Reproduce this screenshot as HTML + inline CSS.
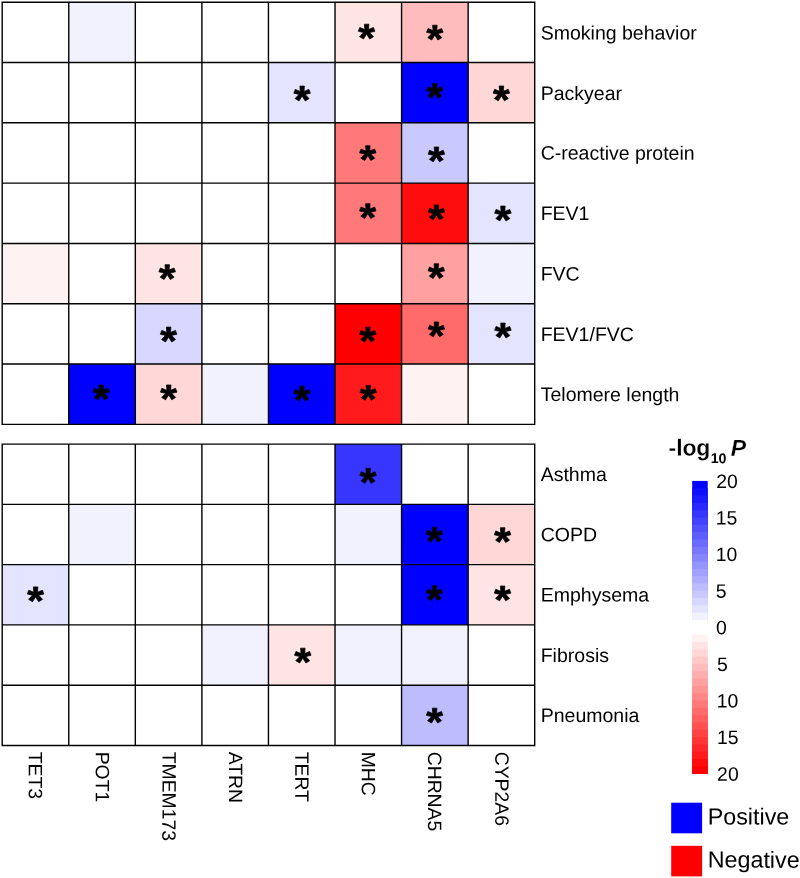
<!DOCTYPE html>
<html><head><meta charset="utf-8"><title>heatmap</title>
<style>
html,body{margin:0;padding:0;background:#fff;}
body{width:800px;height:878px;overflow:hidden;}
svg{display:block;will-change:transform;font-family:"Liberation Sans",sans-serif;}
.lab{font-size:19.5px;fill:#000;}
.col{font-size:19.35px;fill:#000;}
.star{font-size:40px;}
.st{fill:#000;stroke:#000;stroke-width:36;stroke-linejoin:round;}
.tick{font-size:19.4px;fill:#000;}
.leg{font-size:23.3px;fill:#000;}
.ttl{font-size:23px;font-weight:bold;fill:#000;stroke:#fff;stroke-width:0.2px;}
</style></head><body>
<svg width="800" height="878" viewBox="0 0 800 878">
<rect x="0" y="0" width="800" height="878" fill="#fff"/>

<rect x="68.76" y="2.20" width="66.56" height="60.31" fill="rgb(242,242,255)"/>
<rect x="335.01" y="2.20" width="66.56" height="60.31" fill="rgb(255,228,228)"/>
<rect x="401.57" y="2.20" width="66.56" height="60.31" fill="rgb(255,188,188)"/>
<rect x="268.45" y="62.51" width="66.56" height="60.31" fill="rgb(228,228,255)"/>
<rect x="401.57" y="62.51" width="66.56" height="60.31" fill="rgb(0,0,255)"/>
<rect x="468.14" y="62.51" width="66.56" height="60.31" fill="rgb(255,215,215)"/>
<rect x="335.01" y="122.81" width="66.56" height="60.31" fill="rgb(255,121,121)"/>
<rect x="401.57" y="122.81" width="66.56" height="60.31" fill="rgb(201,201,255)"/>
<rect x="335.01" y="183.12" width="66.56" height="60.31" fill="rgb(255,121,121)"/>
<rect x="401.57" y="183.12" width="66.56" height="60.31" fill="rgb(255,13,13)"/>
<rect x="468.14" y="183.12" width="66.56" height="60.31" fill="rgb(228,228,255)"/>
<rect x="2.20" y="243.43" width="66.56" height="60.31" fill="rgb(255,242,242)"/>
<rect x="135.32" y="243.43" width="66.56" height="60.31" fill="rgb(255,228,228)"/>
<rect x="401.57" y="243.43" width="66.56" height="60.31" fill="rgb(255,161,161)"/>
<rect x="468.14" y="243.43" width="66.56" height="60.31" fill="rgb(242,242,255)"/>
<rect x="135.32" y="303.74" width="66.56" height="60.31" fill="rgb(215,215,255)"/>
<rect x="335.01" y="303.74" width="66.56" height="60.31" fill="rgb(255,0,0)"/>
<rect x="401.57" y="303.74" width="66.56" height="60.31" fill="rgb(255,107,107)"/>
<rect x="468.14" y="303.74" width="66.56" height="60.31" fill="rgb(228,228,255)"/>
<rect x="68.76" y="364.04" width="66.56" height="60.31" fill="rgb(0,0,255)"/>
<rect x="135.32" y="364.04" width="66.56" height="60.31" fill="rgb(255,215,215)"/>
<rect x="201.89" y="364.04" width="66.56" height="60.31" fill="rgb(242,242,255)"/>
<rect x="268.45" y="364.04" width="66.56" height="60.31" fill="rgb(0,0,255)"/>
<rect x="335.01" y="364.04" width="66.56" height="60.31" fill="rgb(255,27,27)"/>
<rect x="401.57" y="364.04" width="66.56" height="60.31" fill="rgb(255,242,242)"/>
<path d="M2.20 1.50V425.05M68.76 1.50V425.05M135.32 1.50V425.05M201.89 1.50V425.05M268.45 1.50V425.05M335.01 1.50V425.05M401.57 1.50V425.05M468.14 1.50V425.05M534.70 1.50V425.05M1.50 2.20H535.40M1.50 62.51H535.40M1.50 122.81H535.40M1.50 183.12H535.40M1.50 243.43H535.40M1.50 303.74H535.40M1.50 364.04H535.40M1.50 424.35H535.40" stroke="#000" stroke-width="1.4" fill="none"/>
<path class="st" transform="translate(366.60 31.60) scale(0.020976 -0.019488) translate(-400.5 -1028)" d="M492 1135 727 1239 795 1042 545 981 731 768 547 647 401 899 252 647 66 770 256 981 6 1042 74 1239 313 1135 295 1409H510Z"/>
<path class="st" transform="translate(434.85 32.60) scale(0.020976 -0.019488) translate(-400.5 -1028)" d="M492 1135 727 1239 795 1042 545 981 731 768 547 647 401 899 252 647 66 770 256 981 6 1042 74 1239 313 1135 295 1409H510Z"/>
<path class="st" transform="translate(302.10 93.50) scale(0.020976 -0.019488) translate(-400.5 -1028)" d="M492 1135 727 1239 795 1042 545 981 731 768 547 647 401 899 252 647 66 770 256 981 6 1042 74 1239 313 1135 295 1409H510Z"/>
<path class="st" transform="translate(434.75 90.85) scale(0.020976 -0.019488) translate(-400.5 -1028)" d="M492 1135 727 1239 795 1042 545 981 731 768 547 647 401 899 252 647 66 770 256 981 6 1042 74 1239 313 1135 295 1409H510Z"/>
<path class="st" transform="translate(501.40 93.40) scale(0.020976 -0.019488) translate(-400.5 -1028)" d="M492 1135 727 1239 795 1042 545 981 731 768 547 647 401 899 252 647 66 770 256 981 6 1042 74 1239 313 1135 295 1409H510Z"/>
<path class="st" transform="translate(367.80 153.10) scale(0.020976 -0.019488) translate(-400.5 -1028)" d="M492 1135 727 1239 795 1042 545 981 731 768 547 647 401 899 252 647 66 770 256 981 6 1042 74 1239 313 1135 295 1409H510Z"/>
<path class="st" transform="translate(436.40 154.40) scale(0.020976 -0.019488) translate(-400.5 -1028)" d="M492 1135 727 1239 795 1042 545 981 731 768 547 647 401 899 252 647 66 770 256 981 6 1042 74 1239 313 1135 295 1409H510Z"/>
<path class="st" transform="translate(367.80 211.15) scale(0.020976 -0.019488) translate(-400.5 -1028)" d="M492 1135 727 1239 795 1042 545 981 731 768 547 647 401 899 252 647 66 770 256 981 6 1042 74 1239 313 1135 295 1409H510Z"/>
<path class="st" transform="translate(436.40 212.35) scale(0.020976 -0.019488) translate(-400.5 -1028)" d="M492 1135 727 1239 795 1042 545 981 731 768 547 647 401 899 252 647 66 770 256 981 6 1042 74 1239 313 1135 295 1409H510Z"/>
<path class="st" transform="translate(502.90 213.50) scale(0.020976 -0.019488) translate(-400.5 -1028)" d="M492 1135 727 1239 795 1042 545 981 731 768 547 647 401 899 252 647 66 770 256 981 6 1042 74 1239 313 1135 295 1409H510Z"/>
<path class="st" transform="translate(167.20 272.10) scale(0.020976 -0.019488) translate(-400.5 -1028)" d="M492 1135 727 1239 795 1042 545 981 731 768 547 647 401 899 252 647 66 770 256 981 6 1042 74 1239 313 1135 295 1409H510Z"/>
<path class="st" transform="translate(436.30 271.15) scale(0.020976 -0.019488) translate(-400.5 -1028)" d="M492 1135 727 1239 795 1042 545 981 731 768 547 647 401 899 252 647 66 770 256 981 6 1042 74 1239 313 1135 295 1409H510Z"/>
<path class="st" transform="translate(168.60 334.50) scale(0.020976 -0.019488) translate(-400.5 -1028)" d="M492 1135 727 1239 795 1042 545 981 731 768 547 647 401 899 252 647 66 770 256 981 6 1042 74 1239 313 1135 295 1409H510Z"/>
<path class="st" transform="translate(367.80 334.60) scale(0.020976 -0.019488) translate(-400.5 -1028)" d="M492 1135 727 1239 795 1042 545 981 731 768 547 647 401 899 252 647 66 770 256 981 6 1042 74 1239 313 1135 295 1409H510Z"/>
<path class="st" transform="translate(436.40 329.35) scale(0.020976 -0.019488) translate(-400.5 -1028)" d="M492 1135 727 1239 795 1042 545 981 731 768 547 647 401 899 252 647 66 770 256 981 6 1042 74 1239 313 1135 295 1409H510Z"/>
<path class="st" transform="translate(502.90 330.50) scale(0.020976 -0.019488) translate(-400.5 -1028)" d="M492 1135 727 1239 795 1042 545 981 731 768 547 647 401 899 252 647 66 770 256 981 6 1042 74 1239 313 1135 295 1409H510Z"/>
<path class="st" transform="translate(101.20 392.40) scale(0.020976 -0.019488) translate(-400.5 -1028)" d="M492 1135 727 1239 795 1042 545 981 731 768 547 647 401 899 252 647 66 770 256 981 6 1042 74 1239 313 1135 295 1409H510Z"/>
<path class="st" transform="translate(168.70 392.40) scale(0.020976 -0.019488) translate(-400.5 -1028)" d="M492 1135 727 1239 795 1042 545 981 731 768 547 647 401 899 252 647 66 770 256 981 6 1042 74 1239 313 1135 295 1409H510Z"/>
<path class="st" transform="translate(301.90 393.60) scale(0.020976 -0.019488) translate(-400.5 -1028)" d="M492 1135 727 1239 795 1042 545 981 731 768 547 647 401 899 252 647 66 770 256 981 6 1042 74 1239 313 1135 295 1409H510Z"/>
<path class="st" transform="translate(368.20 392.80) scale(0.020976 -0.019488) translate(-400.5 -1028)" d="M492 1135 727 1239 795 1042 545 981 731 768 547 647 401 899 252 647 66 770 256 981 6 1042 74 1239 313 1135 295 1409H510Z"/>
<text class="lab" transform="translate(540.7 39.40) rotate(0.03)">Smoking behavior</text>
<text class="lab" transform="translate(540.7 99.90) rotate(0.03)">Packyear</text>
<text class="lab" transform="translate(540.7 159.60) rotate(0.03)">C-reactive protein</text>
<text class="lab" transform="translate(540.7 220.00) rotate(0.03)">FEV1</text>
<text class="lab" transform="translate(540.7 280.60) rotate(0.03)">FVC</text>
<text class="lab" transform="translate(540.7 341.00) rotate(0.03)">FEV1/FVC</text>
<text class="lab" transform="translate(540.7 401.10) rotate(0.03)">Telomere length</text>
<rect x="335.01" y="444.10" width="66.56" height="60.27" fill="rgb(54,54,255)"/>
<rect x="68.76" y="504.37" width="66.56" height="60.27" fill="rgb(242,242,255)"/>
<rect x="335.01" y="504.37" width="66.56" height="60.27" fill="rgb(242,242,255)"/>
<rect x="401.57" y="504.37" width="66.56" height="60.27" fill="rgb(0,0,255)"/>
<rect x="468.14" y="504.37" width="66.56" height="60.27" fill="rgb(255,215,215)"/>
<rect x="2.20" y="564.64" width="66.56" height="60.27" fill="rgb(228,228,255)"/>
<rect x="401.57" y="564.64" width="66.56" height="60.27" fill="rgb(0,0,255)"/>
<rect x="468.14" y="564.64" width="66.56" height="60.27" fill="rgb(255,228,228)"/>
<rect x="201.89" y="624.91" width="66.56" height="60.27" fill="rgb(242,242,255)"/>
<rect x="268.45" y="624.91" width="66.56" height="60.27" fill="rgb(255,228,228)"/>
<rect x="335.01" y="624.91" width="66.56" height="60.27" fill="rgb(242,242,255)"/>
<rect x="401.57" y="624.91" width="66.56" height="60.27" fill="rgb(242,242,255)"/>
<rect x="401.57" y="685.18" width="66.56" height="60.27" fill="rgb(188,188,255)"/>
<path d="M2.20 443.40V746.15M68.76 443.40V746.15M135.32 443.40V746.15M201.89 443.40V746.15M268.45 443.40V746.15M335.01 443.40V746.15M401.57 443.40V746.15M468.14 443.40V746.15M534.70 443.40V746.15M1.50 444.10H535.40M1.50 504.37H535.40M1.50 564.64H535.40M1.50 624.91H535.40M1.50 685.18H535.40M1.50 745.45H535.40" stroke="#000" stroke-width="1.4" fill="none"/>
<path class="st" transform="translate(368.10 475.85) scale(0.020976 -0.019488) translate(-400.5 -1028)" d="M492 1135 727 1239 795 1042 545 981 731 768 547 647 401 899 252 647 66 770 256 981 6 1042 74 1239 313 1135 295 1409H510Z"/>
<path class="st" transform="translate(434.40 534.60) scale(0.020976 -0.019488) translate(-400.5 -1028)" d="M492 1135 727 1239 795 1042 545 981 731 768 547 647 401 899 252 647 66 770 256 981 6 1042 74 1239 313 1135 295 1409H510Z"/>
<path class="st" transform="translate(502.60 535.10) scale(0.020976 -0.019488) translate(-400.5 -1028)" d="M492 1135 727 1239 795 1042 545 981 731 768 547 647 401 899 252 647 66 770 256 981 6 1042 74 1239 313 1135 295 1409H510Z"/>
<path class="st" transform="translate(35.60 594.30) scale(0.020976 -0.019488) translate(-400.5 -1028)" d="M492 1135 727 1239 795 1042 545 981 731 768 547 647 401 899 252 647 66 770 256 981 6 1042 74 1239 313 1135 295 1409H510Z"/>
<path class="st" transform="translate(434.40 593.20) scale(0.020976 -0.019488) translate(-400.5 -1028)" d="M492 1135 727 1239 795 1042 545 981 731 768 547 647 401 899 252 647 66 770 256 981 6 1042 74 1239 313 1135 295 1409H510Z"/>
<path class="st" transform="translate(502.60 593.40) scale(0.020976 -0.019488) translate(-400.5 -1028)" d="M492 1135 727 1239 795 1042 545 981 731 768 547 647 401 899 252 647 66 770 256 981 6 1042 74 1239 313 1135 295 1409H510Z"/>
<path class="st" transform="translate(302.80 655.60) scale(0.020976 -0.019488) translate(-400.5 -1028)" d="M492 1135 727 1239 795 1042 545 981 731 768 547 647 401 899 252 647 66 770 256 981 6 1042 74 1239 313 1135 295 1409H510Z"/>
<path class="st" transform="translate(434.60 715.60) scale(0.020976 -0.019488) translate(-400.5 -1028)" d="M492 1135 727 1239 795 1042 545 981 731 768 547 647 401 899 252 647 66 770 256 981 6 1042 74 1239 313 1135 295 1409H510Z"/>
<text class="lab" transform="translate(540.7 481.00) rotate(0.03)">Asthma</text>
<text class="lab" transform="translate(540.7 541.20) rotate(0.03)">COPD</text>
<text class="lab" transform="translate(540.7 601.40) rotate(0.03)">Emphysema</text>
<text class="lab" transform="translate(540.7 661.90) rotate(0.03)">Fibrosis</text>
<text class="lab" transform="translate(540.7 721.90) rotate(0.03)">Pneumonia</text>
<text class="col" transform="translate(28.68 751.7) rotate(90.03)">TET3</text>
<text class="col" transform="translate(95.84 751.7) rotate(90.03)">POT1</text>
<text class="col" transform="translate(162.41 751.7) rotate(90.03)">TMEM173</text>
<text class="col" transform="translate(228.97 751.7) rotate(90.03)">ATRN</text>
<text class="col" transform="translate(295.23 751.7) rotate(90.03)">TERT</text>
<text class="col" transform="translate(361.69 751.7) rotate(90.03)">MHC</text>
<text class="col" transform="translate(428.06 751.7) rotate(90.03)">CHRNA5</text>
<text class="col" transform="translate(495.22 751.7) rotate(90.03)">CYP2A6</text>
<rect x="692.2" y="480.90" width="15.5" height="292.80" fill="rgb(0,0,255)"/>
<rect x="692.2" y="488.22" width="15.5" height="285.48" fill="rgb(13,13,255)"/>
<rect x="692.2" y="495.54" width="15.5" height="278.16" fill="rgb(27,27,255)"/>
<rect x="692.2" y="502.86" width="15.5" height="270.84" fill="rgb(40,40,255)"/>
<rect x="692.2" y="510.18" width="15.5" height="263.52" fill="rgb(54,54,255)"/>
<rect x="692.2" y="517.50" width="15.5" height="256.20" fill="rgb(67,67,255)"/>
<rect x="692.2" y="524.82" width="15.5" height="248.88" fill="rgb(81,81,255)"/>
<rect x="692.2" y="532.14" width="15.5" height="241.56" fill="rgb(94,94,255)"/>
<rect x="692.2" y="539.46" width="15.5" height="234.24" fill="rgb(107,107,255)"/>
<rect x="692.2" y="546.78" width="15.5" height="226.92" fill="rgb(121,121,255)"/>
<rect x="692.2" y="554.10" width="15.5" height="219.60" fill="rgb(134,134,255)"/>
<rect x="692.2" y="561.42" width="15.5" height="212.28" fill="rgb(148,148,255)"/>
<rect x="692.2" y="568.74" width="15.5" height="204.96" fill="rgb(161,161,255)"/>
<rect x="692.2" y="576.06" width="15.5" height="197.64" fill="rgb(174,174,255)"/>
<rect x="692.2" y="583.38" width="15.5" height="190.32" fill="rgb(188,188,255)"/>
<rect x="692.2" y="590.70" width="15.5" height="183.00" fill="rgb(201,201,255)"/>
<rect x="692.2" y="598.02" width="15.5" height="175.68" fill="rgb(215,215,255)"/>
<rect x="692.2" y="605.34" width="15.5" height="168.36" fill="rgb(228,228,255)"/>
<rect x="692.2" y="612.66" width="15.5" height="161.04" fill="rgb(242,242,255)"/>
<rect x="692.2" y="619.98" width="15.5" height="153.72" fill="rgb(255,255,255)"/>
<rect x="692.2" y="627.30" width="15.5" height="146.40" fill="rgb(255,255,255)"/>
<rect x="692.2" y="634.62" width="15.5" height="139.08" fill="rgb(255,242,242)"/>
<rect x="692.2" y="641.94" width="15.5" height="131.76" fill="rgb(255,228,228)"/>
<rect x="692.2" y="649.26" width="15.5" height="124.44" fill="rgb(255,215,215)"/>
<rect x="692.2" y="656.58" width="15.5" height="117.12" fill="rgb(255,201,201)"/>
<rect x="692.2" y="663.90" width="15.5" height="109.80" fill="rgb(255,188,188)"/>
<rect x="692.2" y="671.22" width="15.5" height="102.48" fill="rgb(255,174,174)"/>
<rect x="692.2" y="678.54" width="15.5" height="95.16" fill="rgb(255,161,161)"/>
<rect x="692.2" y="685.86" width="15.5" height="87.84" fill="rgb(255,148,148)"/>
<rect x="692.2" y="693.18" width="15.5" height="80.52" fill="rgb(255,134,134)"/>
<rect x="692.2" y="700.50" width="15.5" height="73.20" fill="rgb(255,121,121)"/>
<rect x="692.2" y="707.82" width="15.5" height="65.88" fill="rgb(255,107,107)"/>
<rect x="692.2" y="715.14" width="15.5" height="58.56" fill="rgb(255,94,94)"/>
<rect x="692.2" y="722.46" width="15.5" height="51.24" fill="rgb(255,81,81)"/>
<rect x="692.2" y="729.78" width="15.5" height="43.92" fill="rgb(255,67,67)"/>
<rect x="692.2" y="737.10" width="15.5" height="36.60" fill="rgb(255,54,54)"/>
<rect x="692.2" y="744.42" width="15.5" height="29.28" fill="rgb(255,40,40)"/>
<rect x="692.2" y="751.74" width="15.5" height="21.96" fill="rgb(255,27,27)"/>
<rect x="692.2" y="759.06" width="15.5" height="14.64" fill="rgb(255,13,13)"/>
<rect x="692.2" y="766.38" width="15.5" height="7.32" fill="rgb(255,0,0)"/>
<text class="tick" transform="translate(716.2 487.90) rotate(0.03)">20</text>
<text class="tick" transform="translate(715.8 524.50) rotate(0.03)">15</text>
<text class="tick" transform="translate(715.8 561.10) rotate(0.03)">10</text>
<text class="tick" transform="translate(715.8 597.70) rotate(0.03)">5</text>
<text class="tick" transform="translate(715.9 634.30) rotate(0.03)">0</text>
<text class="tick" transform="translate(716.9 670.90) rotate(0.03)">5</text>
<text class="tick" transform="translate(716.7 707.50) rotate(0.03)">10</text>
<text class="tick" transform="translate(716.9 744.10) rotate(0.03)">15</text>
<text class="tick" transform="translate(717.1 780.70) rotate(0.03)">20</text>
<text class="ttl" transform="translate(668.6 455.6) rotate(0.03)" letter-spacing="-0.12">-log<tspan font-size="14.2" dy="7.5" dx="0.4" stroke="none">10</tspan><tspan dy="-7.5" font-style="italic" dx="4.6">P</tspan></text>
<rect x="671.2" y="802.7" width="30.9" height="30.6" fill="#0000ff"/>
<rect x="671.2" y="845.8" width="30.9" height="30.6" fill="#ff0000"/>
<text class="leg" transform="translate(707.7 824.5) rotate(0.03)">Positive</text>
<text class="leg" transform="translate(707.7 867.6) rotate(0.03)">Negative</text>
</svg></body></html>
